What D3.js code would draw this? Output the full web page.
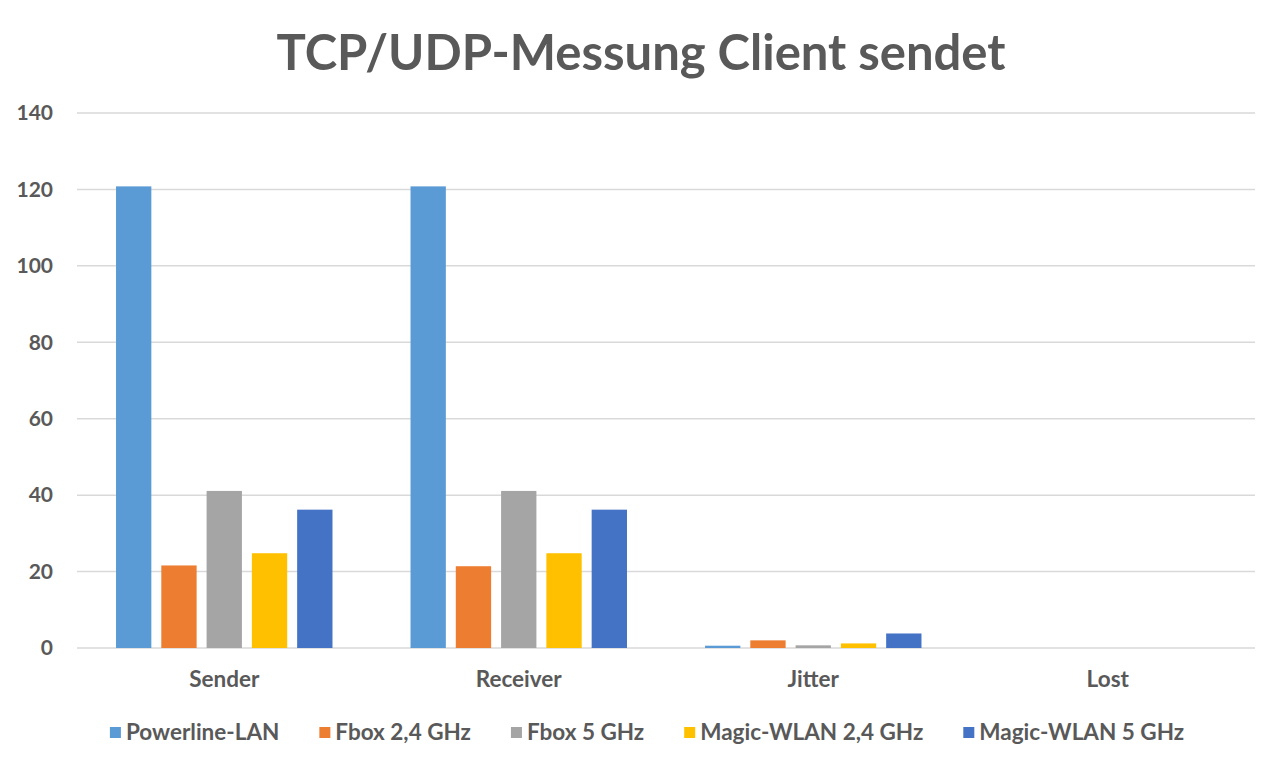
<!DOCTYPE html>
<meta charset="utf-8">
<html>
<head>
    <title>TCP/UDP-Messung Client sendet</title>
    <script src="https://d3js.org/d3.v7.min.js"></script>
    <style>
        body { margin: 0; background: #fff; }
        text { font-family: Lato, "Open Sans", sans-serif; font-weight: bold; fill: #595959; }
    </style>
</head>
<body>
    <div id="chart"></div>

    <script type="text/javascript">

        // data
        var categories = ["Sender", "Receiver", "Jitter", "Lost"];
        var series = ["Powerline-LAN", "Fbox 2,4 GHz", "Fbox 5 GHz", "Magic-WLAN 2,4 GHz", "Magic-WLAN 5 GHz"];
        var powerline = [120.8, 120.8, 0.6, 0];
        var fbox24 = [21.6, 21.4, 2.0, 0];
        var fbox5 = [41.1, 41.1, 0.7, 0];
        var magic24 = [24.8, 24.8, 1.2, 0];
        var magic5 = [36.2, 36.2, 3.8, 0];
        var yTicks = [0, 20, 40, 60, 80, 100, 120, 140];
        var colors = ["#5B9BD5", "#ED7D31", "#A5A5A5", "#FFC000", "#4472C4"];

        var values = [powerline, fbox24, fbox5, magic24, magic5];

        var W = 1280, H = 767,
          margin = { top: 113, right: 25, bottom: 119, left: 77 },
          width = W - margin.left - margin.right,
          height = H - margin.top - margin.bottom;

        var svg = d3.select("#chart").append("svg")
          .attr("width", W)
          .attr("height", H);

        // title
        svg.append("text")
          .attr("x", 641)
          .attr("y", 70)
          .attr("text-anchor", "middle")
          .style("font-size", "49px")
          .text("TCP/UDP-Messung Client sendet");

        var g = svg.append("g")
          .attr("transform", "translate(" + margin.left + "," + margin.top + ")");

        var x0 = d3.scaleBand()
          .domain(categories)
          .range([0, width])
          .paddingInner(0.265)
          .paddingOuter(0.1325);

        var x1 = d3.scaleBand()
          .domain(series)
          .range([0, x0.bandwidth()])
          .paddingInner(0.22);

        var y = d3.scaleLinear()
          .domain([0, 140])
          .range([height, 0]);

        // gridlines
        g.selectAll(".grid")
          .data(yTicks)
          .enter().append("line")
            .attr("x1", 0)
            .attr("x2", width)
            .attr("y1", function(d) { return y(d); })
            .attr("y2", function(d) { return y(d); })
            .attr("stroke", "#D9D9D9")
            .attr("stroke-width", 1.5);

        // y axis labels
        var yAxis = d3.axisLeft(y).tickValues(yTicks).tickSize(0).tickPadding(24);
        var yg = g.append("g").call(yAxis);
        yg.select(".domain").remove();
        yg.selectAll("text")
          .style("font-size", "21px")
          .style("font-family", "Lato, sans-serif")
          .attr("fill", "#595959");

        // bars
        var groups = g.selectAll(".cat")
          .data(categories)
          .enter().append("g")
            .attr("transform", function(d) { return "translate(" + x0(d) + ",0)"; });

        groups.selectAll("rect")
          .data(function(d, ci) { return series.map(function(s, si) { return { s: s, i: si, v: values[si][ci] }; }); })
          .enter().append("rect")
            .attr("x", function(d) { return x1(d.s); })
            .attr("y", function(d) { return y(d.v); })
            .attr("width", x1.bandwidth())
            .attr("height", function(d) { return height - y(d.v); })
            .attr("fill", function(d) { return colors[d.i]; });

        // x axis labels
        var xAxis = d3.axisBottom(x0).tickSize(0).tickPadding(23);
        var xg = g.append("g").attr("transform", "translate(0," + height + ")").call(xAxis);
        xg.select(".domain").remove();
        xg.selectAll("text")
          .style("font-size", "22.5px")
          .style("font-family", "Lato, sans-serif")
          .attr("fill", "#595959");

        // legend, laid out from measured text widths
        var legend = svg.append("g");
        var items = legend.selectAll(".leg")
          .data(series)
          .enter().append("g");
        items.append("rect")
          .attr("width", 11)
          .attr("height", 11)
          .attr("y", -5)
          .attr("fill", function(d, i) { return colors[i]; });
        items.append("text")
          .attr("x", 16)
          .attr("y", 8)
          .style("font-size", "22.5px")
          .text(function(d) { return d; });

        var gap = 40, pos = 0;
        items.each(function() {
          var w = 16 + this.querySelector("text").getComputedTextLength();
          d3.select(this).attr("transform", "translate(" + pos + ",0)");
          pos += w + gap;
        });
        var total = pos - gap;
        legend.attr("transform", "translate(" + (647 - total / 2) + ",732)");

    </script>

</body>
</html>
